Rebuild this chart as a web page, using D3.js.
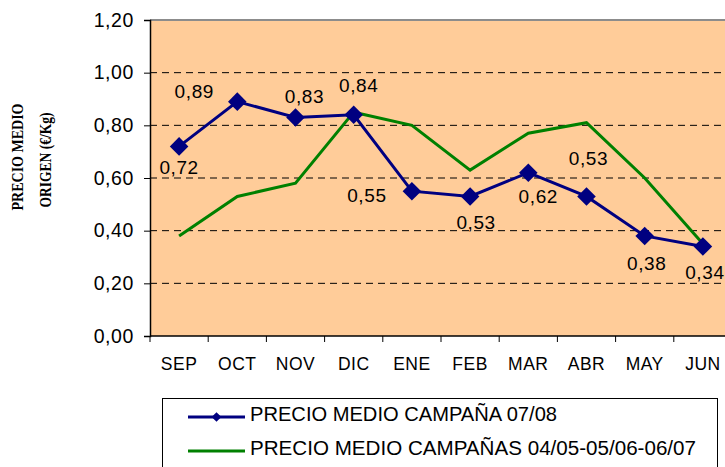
<!DOCTYPE html>
<html>
<head>
<meta charset="utf-8">
<script src="https://cdn.jsdelivr.net/npm/d3@7"></script>
<style>
  body { margin: 0; background: #fff; }
  svg { display: block; }
  text { font-family: "Liberation Sans", Arial, sans-serif; }
</style>
</head>
<body>
<div id="chart"></div>
<script>
// data
var months = ["SEP", "OCT", "NOV", "DIC", "ENE", "FEB", "MAR", "ABR", "MAY", "JUN"];
var precio0708 = [0.72, 0.89, 0.83, 0.84, 0.55, 0.53, 0.62, 0.53, 0.38, 0.34];
var precioMedia = [0.38, 0.53, 0.58, 0.85, 0.80, 0.63, 0.77, 0.81, 0.60, 0.35];
var yTicks = [0, 0.2, 0.4, 0.6, 0.8, 1.0, 1.2];
var seriesNames = ["PRECIO MEDIO CAMPAÑA 07/08", "PRECIO MEDIO CAMPAÑAS 04/05-05/06-06/07"];
var yTitle = ["PRECIO MEDIO", "ORIGEN (€/Kg)"];

// where each data label sits relative to its marker (hand placed like the original)
var labelOffset = [[0, 21], [-43, -10], [9, -21], [5, -30], [-45, 4],
                   [6, 26], [10, 23], [2, -38], [2, 27], [2, 26]];

var svgWidth = 725, svgHeight = 467;
var margin = { top: 20, left: 150 };
var width = 582, height = 316;

var svg = d3.select("#chart").append("svg")
    .attr("width", svgWidth)
    .attr("height", svgHeight);

var x = d3.scaleBand().domain(months).range([0, width]).padding(0);
var y = d3.scaleLinear().domain([0, 1.2]).range([height, 0]);
var fmt = function(v) { return d3.format(".2f")(v).replace(".", ","); };

var g = svg.append("g")
    .attr("transform", `translate(${margin.left}, ${margin.top})`);

// plot background
g.append("rect")
    .attr("width", width)
    .attr("height", height)
    .attr("fill", "#FFCC99");

// grid lines
g.selectAll(".grid")
    .data(yTicks.filter(d => d > 0 && d < 1.2))
    .enter().append("line")
    .attr("x1", 0).attr("x2", width)
    .attr("y1", d => y(d)).attr("y2", d => y(d))
    .attr("stroke", "#000")
    .attr("stroke-width", 1)
    .attr("stroke-dasharray", "7,5");

// top border
g.append("line")
    .attr("x1", 0).attr("x2", width)
    .attr("y1", 0).attr("y2", 0)
    .attr("stroke", "#8c8c8c")
    .attr("stroke-width", 2);

// y axis
var yAxis = g.append("g")
    .call(d3.axisLeft(y).tickValues(yTicks).tickFormat(fmt).tickSize(6).tickPadding(10));
yAxis.select(".domain").attr("stroke", "#000").attr("stroke-width", 1.5);
yAxis.selectAll("text")
    .attr("font-size", 19.5)
    .attr("letter-spacing", 0.6)
    .attr("fill", "#000")
    .style("font-family", "Liberation Sans, Arial, sans-serif");

// x axis line + ticks at band edges
g.append("line")
    .attr("x1", 0).attr("x2", width)
    .attr("y1", height).attr("y2", height)
    .attr("stroke", "#000").attr("stroke-width", 1.5);
g.selectAll(".xtick")
    .data(months.concat(["end"]))
    .enter().append("line")
    .attr("x1", (d, i) => i * x.step()).attr("x2", (d, i) => i * x.step())
    .attr("y1", height).attr("y2", height + 6)
    .attr("stroke", "#000");
g.selectAll(".xlabel")
    .data(months)
    .enter().append("text")
    .attr("x", d => x(d) + x.bandwidth() / 2)
    .attr("y", height + 34)
    .attr("text-anchor", "middle")
    .attr("font-size", 17.5)
    .attr("letter-spacing", 0.5)
    .text(d => d);

// lines
var line = d3.line()
    .x((d, i) => x(months[i]) + x.bandwidth() / 2)
    .y(d => y(d));

g.append("path")
    .datum(precioMedia)
    .attr("fill", "none")
    .attr("stroke", "#008000")
    .attr("stroke-width", 3)
    .attr("d", line);

g.append("path")
    .datum(precio0708)
    .attr("fill", "none")
    .attr("stroke", "#000080")
    .attr("stroke-width", 3)
    .attr("d", line);

var diamond = d3.symbol().type(d3.symbolDiamond2).size(220);
g.selectAll(".marker")
    .data(precio0708)
    .enter().append("path")
    .attr("transform", (d, i) => `translate(${x(months[i]) + x.bandwidth() / 2}, ${y(d)})`)
    .attr("d", diamond)
    .attr("fill", "#000080");

// data labels
g.selectAll(".dlabel")
    .data(precio0708)
    .enter().append("text")
    .attr("x", (d, i) => x(months[i]) + x.bandwidth() / 2 + labelOffset[i][0])
    .attr("y", (d, i) => y(d) + labelOffset[i][1])
    .attr("dy", "0.36em")
    .attr("text-anchor", "middle")
    .attr("font-size", 19)
    .attr("letter-spacing", 0.6)
    .text(d => fmt(d));

// y axis title
var titleLengths = [107, 95];
yTitle.forEach(function(t, i) {
    svg.append("text")
        .attr("transform", `translate(${23 + i * 28}, ${157 + i * 3}) rotate(-90)`)
        .attr("text-anchor", "middle")
        .attr("font-size", 17)
        .attr("font-weight", "bold")
        .attr("textLength", titleLengths[i])
        .attr("lengthAdjust", "spacingAndGlyphs")
        .style("font-family", "Liberation Serif, Times New Roman, serif")
        .text(t);
});

// legend
var legend = svg.append("g");
legend.append("rect")
    .attr("x", 162.5).attr("y", 398.5)
    .attr("width", 555).attr("height", 80)
    .attr("fill", "#fff")
    .attr("stroke", "#000")
    .attr("stroke-width", 1);

var legendColors = ["#000080", "#008000"];
var legendWidths = [307, 446];
seriesNames.forEach(function(name, i) {
    var ly = 417 + i * 34;
    legend.append("line")
        .attr("x1", 188).attr("x2", 245)
        .attr("y1", ly).attr("y2", ly)
        .attr("stroke", legendColors[i])
        .attr("stroke-width", 3);
    if (i === 0) {
        legend.append("path")
            .attr("transform", `translate(216.5, ${ly})`)
            .attr("d", d3.symbol().type(d3.symbolDiamond2).size(60))
            .attr("fill", legendColors[i]);
    }
    legend.append("text")
        .attr("x", 250)
        .attr("y", ly + 4)
        .attr("font-size", 20.5)
        .attr("textLength", legendWidths[i])
        .attr("lengthAdjust", "spacingAndGlyphs")
        .text(name);
});
</script>
</body>
</html>
